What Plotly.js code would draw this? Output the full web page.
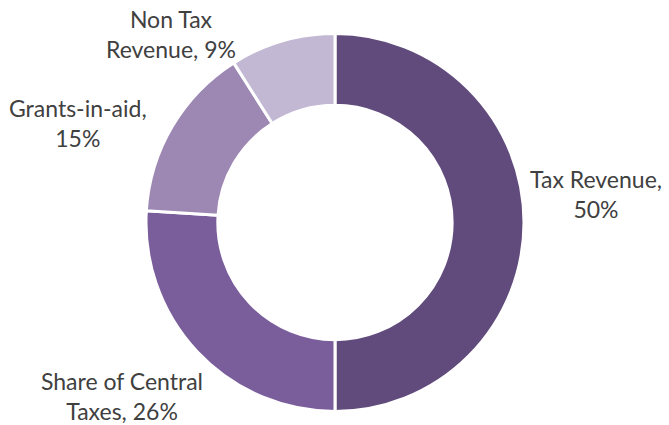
<!DOCTYPE html>
<html>
<head>
<meta charset="utf-8">
<script src="https://cdn.plot.ly/plotly-3.0.1.min.js"></script>
<style>html,body{margin:0;padding:0;background:#fff;}#chart{width:669px;height:425px;}</style>
</head>
<body>
<div id="chart"></div>
<script>
var categories = ["Tax Revenue", "Share of Central Taxes", "Grants-in-aid", "Non Tax Revenue"];
var values = [50, 26, 15, 9];
var labelLines = ["Tax Revenue,<br>50%", "Share of Central<br>Taxes, 26%", "Grants-in-aid,<br>15%", "Non Tax<br>Revenue, 9%"];
var colors = ["#614b7c", "#7a5e9b", "#9c88b3", "#c2b8d3"];

var W = 669, H = 425;
var labelPos = [[596, 194], [122, 396], [78, 123], [171, 34]];

var annotations = labelLines.map(function (t, i) {
  return {
    text: t, xref: "paper", yref: "paper",
    x: labelPos[i][0] / W, y: 1 - labelPos[i][1] / H,
    xanchor: "center", yanchor: "middle", showarrow: false, align: "center",
    font: {family: "Lato, 'Open Sans', sans-serif", size: 23, color: "#404040"}
  };
});

var trace = {
  type: "pie",
  labels: categories,
  values: values,
  hole: 0.62,
  sort: false,
  direction: "clockwise",
  rotation: 0,
  textinfo: "none",
  hoverinfo: "label+percent",
  marker: {colors: colors, line: {color: "#ffffff", width: 3}},
  domain: {x: [146 / W, 524 / W], y: [1 - 412 / H, 1 - 33 / H]},
  showlegend: false
};

Plotly.newPlot("chart", [trace], {
  width: W, height: H,
  margin: {l: 0, r: 0, t: 0, b: 0},
  paper_bgcolor: "#ffffff",
  showlegend: false,
  annotations: annotations
}, {displayModeBar: false, staticPlot: true});
</script>
</body>
</html>
